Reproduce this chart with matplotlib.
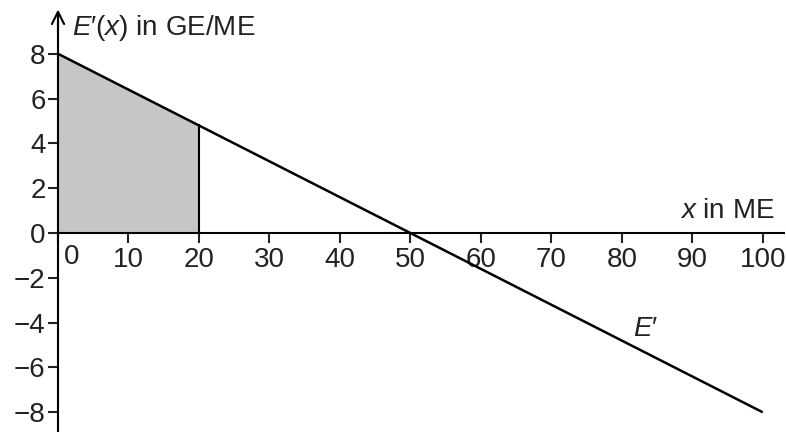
import numpy as np
import matplotlib.pyplot as plt

plt.rcParams['font.family'] = ['Liberation Sans', 'DejaVu Sans']
plt.rcParams['mathtext.fontset'] = 'custom'
plt.rcParams['mathtext.rm'] = 'Liberation Sans'
plt.rcParams['mathtext.it'] = 'Liberation Sans:italic'

# function values E'(x) = 8 - 0.16x
x_vals = [0, 100]
y_vals = [8, -8]
x_shade = [0, 20]
y_shade = [8, 4.8]
x_ticks = [0, 10, 20, 30, 40, 50, 60, 70, 80, 90, 100]
y_ticks = [-8, -6, -4, -2, 0, 2, 4, 6, 8]

fs = 20
tc = '#222222'

fig = plt.figure(figsize=(7.86, 4.32), dpi=100)
ax = fig.add_axes([0, 0, 1, 1])
ax.set_xlim(-8.23, 103.3)
ax.set_ylim(-8.88, 10.4)

for s in ['top', 'right']:
    ax.spines[s].set_visible(False)
ax.spines['left'].set_position(('data', 0))
ax.spines['bottom'].set_position(('data', 0))
ax.spines['left'].set_bounds(-8.9, 9.6)
ax.spines['bottom'].set_bounds(0, 103)
ax.spines['left'].set_linewidth(1.5)
ax.spines['bottom'].set_linewidth(1.5)

# arrow heads
ax.annotate('', xy=(104.0, 0), xytext=(101, 0),
            arrowprops=dict(arrowstyle='->', lw=1.5, color='black', mutation_scale=22))
ax.annotate('', xy=(0, 10.1), xytext=(0, 8.8),
            arrowprops=dict(arrowstyle='->', lw=1.5, color='black', mutation_scale=22))

ax.set_xticks(x_ticks)
ax.set_xticklabels([''] + [str(t) for t in x_ticks[1:]])
ax.set_yticks(y_ticks)
ax.set_yticklabels([str(t).replace('-', '\u2212') for t in y_ticks])
ax.tick_params(axis='x', direction='out', length=7, width=1.5, pad=3, labelsize=fs, colors=tc)
ax.tick_params(axis='y', direction='out', length=7, width=1.5, pad=2, labelsize=fs, colors=tc)
for t in ax.get_xticklines() + ax.get_yticklines():
    t.set_color('black')
ax.text(0.9, -0.5, '0', fontsize=fs, color=tc, ha='left', va='top')

ax.fill_between(x_shade, y_shade, 0, color='#c6c6c6', lw=0)
ax.plot([x_shade[1], x_shade[1]], [0, y_shade[1]], color='black', lw=1.5)
ax.plot(x_vals, y_vals, color='black', lw=1.8, solid_capstyle='butt')

ax.text(2.0, 8.5, "$E\u2032(x)$ in GE/ME", fontsize=fs, color=tc, ha='left', va='bottom')
ax.text(101.6, 0.4, "$x$ in ME", fontsize=fs, color=tc, ha='right', va='bottom')
ax.text(81.6, -4.3, "$E\u2032$", fontsize=fs, color=tc, ha='left', va='center')

fig.savefig('out.png', dpi=100)
